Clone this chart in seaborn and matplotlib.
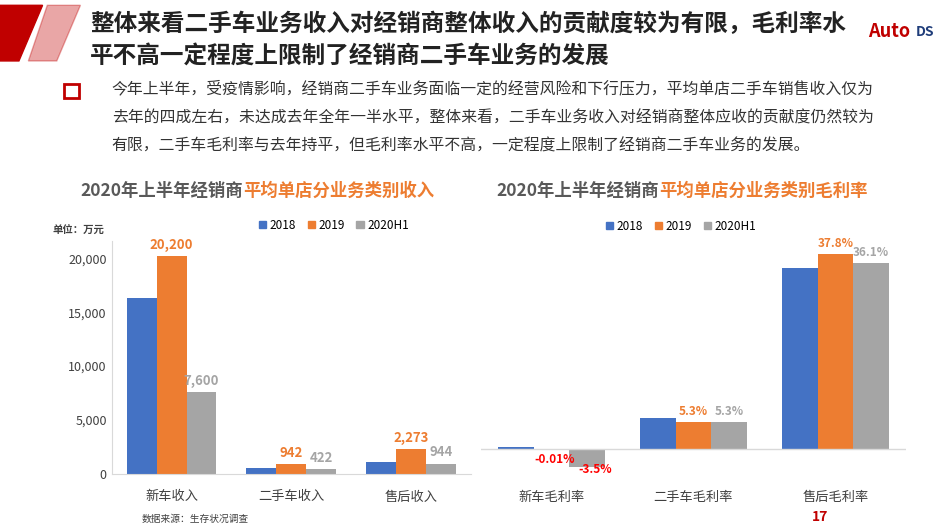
import matplotlib
matplotlib.use('Agg')
import matplotlib.pyplot as plt
import matplotlib.patches as mpatches
import pandas as pd
import seaborn as sns

plt.rcParams['font.family'] = ['Noto Sans CJK SC', 'DejaVu Sans']

years = ['2018', '2019', '2020H1']
palette = ['#4472C4', '#ED7D31', '#A5A5A5']

rev_cats = ['新车收入', '二手车收入', '售后收入']
rev_2018 = [16300, 560, 1100]
rev_2019 = [20200, 942, 2273]
rev_2020h1 = [7600, 422, 944]
rev_labels_2019 = ['20,200', '942', '2,273']
rev_labels_h1 = ['7,600', '422', '944']

gm_cats = ['新车毛利率', '二手车毛利率', '售后毛利率']
gm_2018 = [0.4, 6.0, 35.1]
gm_2019 = [-0.01, 5.3, 37.8]
gm_2020h1 = [-3.5, 5.3, 36.1]
gm_labels_2019 = ['-0.01%', '5.3%', '37.8%']
gm_labels_h1 = ['-3.5%', '5.3%', '36.1%']


def to_long(cats, *series):
    rows = []
    for y, vals in zip(years, series):
        for c, v in zip(cats, vals):
            rows.append({'cat': c, 'year': y, 'val': v})
    return pd.DataFrame(rows)


fig = plt.figure(figsize=(9.46, 5.30), dpi=100)

# header
fig.patches.append(mpatches.Polygon([[0, 0.99], [0.045, 0.99], [0.02, 0.885], [0, 0.885]],
                                    closed=True, color='#C00000', transform=fig.transFigure))
fig.patches.append(mpatches.Polygon([[0.05, 0.99], [0.085, 0.99], [0.06, 0.885], [0.03, 0.885]],
                                    closed=True, color='#C00000', alpha=0.35, transform=fig.transFigure))
fig.text(0.095, 0.955, '整体来看二手车业务收入对经销商整体收入的贡献度较为有限，毛利率水',
         fontsize=17, fontweight='bold', color='#222222', va='center')
fig.text(0.095, 0.895, '平不高一定程度上限制了经销商二手车业务的发展',
         fontsize=17, fontweight='bold', color='#222222', va='center')
fig.text(0.918, 0.94, 'Auto', fontsize=13, fontweight='bold', color='#C00000', va='center')
fig.text(0.968, 0.94, 'DS', fontsize=10, fontweight='bold', color='#1F3D7A', va='center')

fig.patches.append(mpatches.Rectangle((0.068, 0.815), 0.015, 0.027, fill=False, ec='#C00000', lw=2,
                                      transform=fig.transFigure))
para = ['今年上半年，受疫情影响，经销商二手车业务面临一定的经营风险和下行压力，平均单店二手车销售收入仅为',
        '去年的四成左右，未达成去年全年一半水平，整体来看，二手车业务收入对经销商整体应收的贡献度仍然较为',
        '有限，二手车毛利率与去年持平，但毛利率水平不高，一定程度上限制了经销商二手车业务的发展。']
for i, line in enumerate(para):
    fig.text(0.118, 0.832 - i * 0.054, line, fontsize=11.4, color='#333333', va='center')

# subtitles
for x, rest in [(0.085, '平均单店分业务类别收入'), (0.525, '平均单店分业务类别毛利率')]:
    t = fig.text(x, 0.64, '2020年上半年经销商', fontsize=12.5, fontweight='bold', color='#595959', va='center')
    fig.canvas.draw()
    bb = t.get_window_extent().transformed(fig.transFigure.inverted())
    fig.text(bb.x1, 0.64, rest, fontsize=12.5, fontweight='bold', color='#ED7D31', va='center')

# left chart
ax1 = fig.add_axes([0.118, 0.106, 0.38, 0.44])
df1 = to_long(rev_cats, rev_2018, rev_2019, rev_2020h1)
sns.barplot(data=df1, x='cat', y='val', hue='year', palette=palette, width=0.75,
            saturation=1, ax=ax1, legend=False)
ax1.set_ylim(0, 21650)
ax1.set_yticks([0, 5000, 10000, 15000, 20000])
ax1.set_yticklabels(['0', '5,000', '10,000', '15,000', '20,000'])
ax1.set_xlabel('')
ax1.set_ylabel('')
for s in ['top', 'right']:
    ax1.spines[s].set_visible(False)
ax1.spines['left'].set_color('#D9D9D9')
ax1.spines['bottom'].set_color('#D9D9D9')
ax1.tick_params(axis='y', length=0, labelsize=9, colors='#404040')
ax1.tick_params(axis='x', length=0, labelsize=9.5, colors='#404040', pad=12)
for c, t in zip(ax1.containers[1], rev_labels_2019):
    ax1.annotate(t, (c.get_x() + c.get_width() / 2, c.get_height()), xytext=(0, 3),
                 textcoords='offset points', ha='center', va='bottom', fontsize=9.5,
                 fontweight='bold', color='#ED7D31')
for c, t in zip(ax1.containers[2], rev_labels_h1):
    ax1.annotate(t, (c.get_x() + c.get_width() / 2, c.get_height()), xytext=(0, 3),
                 textcoords='offset points', ha='center', va='bottom', fontsize=9.5,
                 fontweight='bold', color='#A5A5A5')
fig.text(0.055, 0.565, '单位：万元', fontsize=7.5, fontweight='bold', color='#404040', va='center')
handles = [mpatches.Patch(color=c) for c in palette]
ax1.legend(handles, years, loc='upper left', bbox_to_anchor=(0.38, 1.14), ncol=3, frameon=False,
           fontsize=8.5, handlelength=0.6, handleheight=0.6, columnspacing=1.0, handletextpad=0.3)

# right chart
ax2 = fig.add_axes([0.508, 0.094, 0.45, 0.453])
df2 = to_long(gm_cats, gm_2018, gm_2019, gm_2020h1)
sns.barplot(data=df2, x='cat', y='val', hue='year', palette=palette, width=0.75,
            saturation=1, ax=ax2, legend=False)
ax2.set_ylim(-6, 40.5)
ax2.axhline(0, color='#D9D9D9', lw=1)
ax2.set_yticks([])
ax2.set_xlabel('')
ax2.set_ylabel('')
for s in ax2.spines.values():
    s.set_visible(False)
ax2.tick_params(axis='x', length=0, labelsize=9.5, colors='#404040', pad=8)
for i, (c, t) in enumerate(zip(ax2.containers[1], gm_labels_2019)):
    if i == 0:
        # small negative value: label sits left of the gray bar
        ax2.annotate(t, (c.get_x() + c.get_width(), 0), xytext=(4, -3),
                     textcoords='offset points', ha='right', va='top', fontsize=8.5,
                     fontweight='bold', color='red')
    else:
        ax2.annotate(t, (c.get_x() + c.get_width() / 2, c.get_height()), xytext=(0, 3),
                     textcoords='offset points', ha='center', va='bottom', fontsize=8.5,
                     fontweight='bold', color='#ED7D31')
for i, (c, t) in enumerate(zip(ax2.containers[2], gm_labels_h1)):
    if i == 0:
        ax2.annotate(t, (c.get_x() + c.get_width() / 2, c.get_y()), xytext=(6, -10),
                     textcoords='offset points', ha='center', va='top', fontsize=8.5,
                     fontweight='bold', color='red')
    else:
        ax2.annotate(t, (c.get_x() + c.get_width() / 2, c.get_height()), xytext=(0, 3),
                     textcoords='offset points', ha='center', va='bottom', fontsize=8.5,
                     fontweight='bold', color='#A5A5A5')
ax2.legend(handles, years, loc='upper left', bbox_to_anchor=(0.27, 1.13), ncol=3, frameon=False,
           fontsize=8.5, handlelength=0.6, handleheight=0.6, columnspacing=1.0, handletextpad=0.3)

fig.text(0.15, 0.012, '数据来源：生存状况调查', fontsize=7, color='#404040', va='bottom')
fig.text(0.858, 0.012, '17', fontsize=10, fontweight='bold', color='#C00000', va='bottom')

fig.savefig('out.png', dpi=100)
